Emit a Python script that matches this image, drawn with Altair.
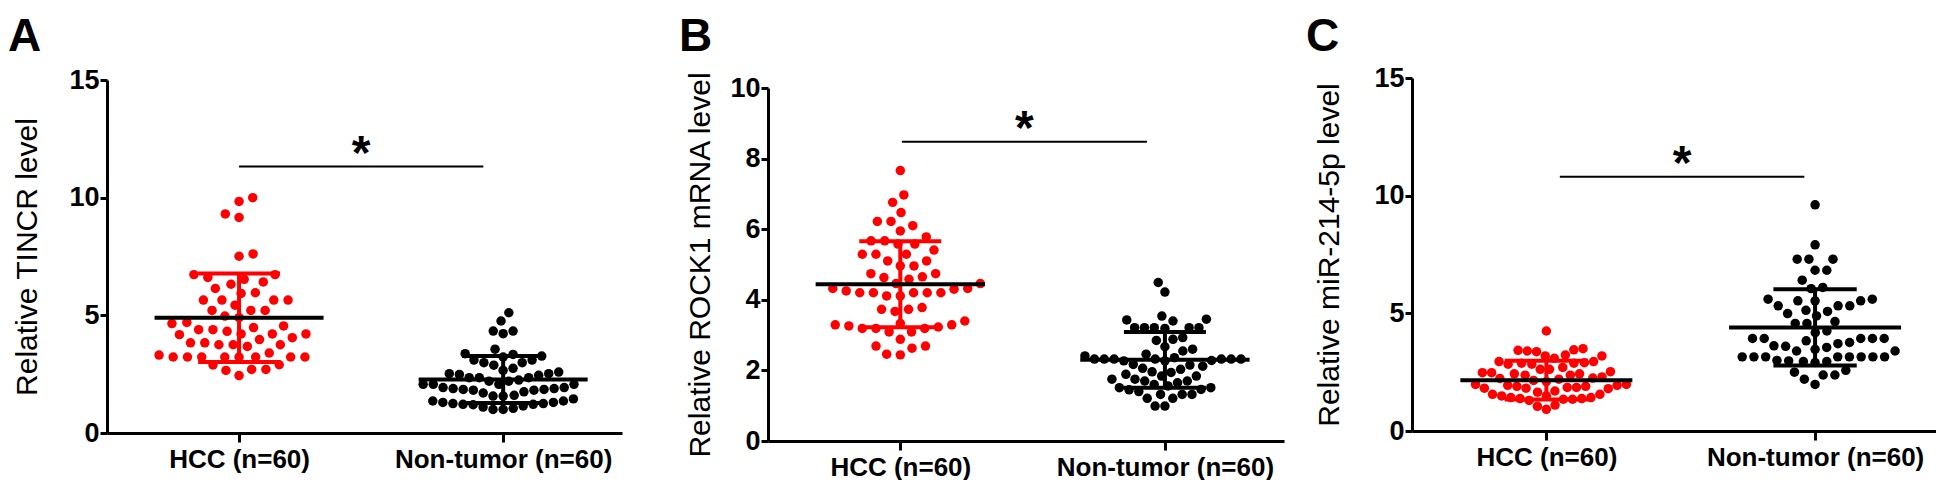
import altair as alt
import numpy as np
import pandas as pd

# ---------------- data ----------------
groups = ["HCC (n=60)", "Non-tumor (n=60)"]
panel_letters = ["A", "B", "C"]
y_titles = ["Relative TINCR level", "Relative ROCK1 mRNA level", "Relative miR-214-5p level"]
y_max = [15, 10, 15]
y_ticks = [[0, 5, 10, 15], [0, 2, 4, 6, 8, 10], [0, 5, 10, 15]]

a_hcc = [10.0, 9.84, 9.31, 9.16, 7.51, 7.61,
         6.73, 6.61, 6.42, 6.32, 6.53, 6.73,
         5.96, 5.65, 5.65, 5.43, 5.65, 5.65, 5.93, 6.14,
         5.21, 5.21, 4.90, 4.65, 4.55, 4.70, 4.97, 5.21,
         4.48, 4.39, 4.21, 4.21, 3.97, 3.83, 3.83, 4.18, 4.21, 4.32, 4.39,
         3.75, 3.75, 3.68, 3.75,
         3.40, 3.23, 3.23, 3.23, 3.23, 3.23, 3.23, 3.23, 3.23, 3.31,
         2.89, 2.70, 2.44, 2.66, 2.70, 2.90, 4.05]
a_nt = [5.11, 4.76,
        4.33, 4.22, 4.33,
        3.37, 3.23, 3.27, 3.34, 3.56,
        3.10, 2.99, 2.75, 2.59, 2.52, 2.45, 2.49, 2.52, 2.66, 2.88, 2.99, 3.10,
        2.35, 2.35, 2.07, 2.07, 1.93, 1.89, 1.85, 1.82, 1.82, 1.85, 1.89, 1.93, 2.07, 2.07, 2.20, 2.35,
        1.57, 1.36, 1.30, 1.25, 1.22, 1.20, 1.10, 1.00, 1.00, 1.05, 1.15, 1.22, 1.25, 1.30, 1.36, 1.45, 1.57,
        1.70, 1.75, 2.20, 2.25, 1.60]
b_hcc = [7.66,
         6.97, 6.76, 6.47,
         6.22, 6.10, 6.22, 5.95,
         5.67, 5.58, 5.78, 5.58, 5.67,
         5.29, 5.29, 5.29, 5.41,
         5.10, 4.96, 4.96, 5.10,
         4.74, 4.63, 4.58, 4.65, 4.74,
         4.46, 4.32, 4.30, 4.20, 4.20, 4.11, 4.11, 4.20, 4.20, 4.20, 4.32, 4.46, 4.25,
         3.78, 3.73, 3.67, 3.73,
         3.40, 3.33, 3.29, 3.23, 3.19, 3.09, 3.09, 3.19, 3.19, 3.26, 3.29,
         2.88, 2.69, 2.63, 2.69,
         2.44, 2.46]
b_nt = [4.49, 4.22,
        3.54, 3.43, 3.40, 3.45,
        3.21, 3.21, 3.19, 3.21, 3.21, 3.21,
        2.85, 2.93, 2.88, 2.67, 2.60, 2.55,
        2.32, 2.32, 2.32, 2.28, 2.17, 2.46, 2.36, 2.41, 2.27, 2.27, 2.32, 2.32, 2.32, 2.32,
        2.12, 2.03, 2.06, 2.15,
        1.94, 1.84, 1.75, 1.65, 1.70, 1.56, 1.51, 1.70, 1.75, 1.84, 1.89, 1.96,
        1.32, 1.32, 1.21, 1.21, 1.32, 1.46, 1.40, 1.51, 1.60, 1.45,
        0.99, 0.99]
c_hcc = [4.25,
         3.50, 3.45, 3.43, 3.40, 3.37,
         3.23, 3.19, 3.19,
         3.09, 2.95, 2.88, 2.84, 2.84, 2.88, 2.90, 2.95,
         2.62, 2.48, 2.43, 2.43, 2.48, 2.52, 2.62, 2.70,
         2.37, 2.23, 2.15, 2.10, 2.20, 2.25, 2.30, 2.37,
         1.98, 1.94, 1.90, 1.85, 1.82, 1.80, 1.82, 1.85, 1.90, 1.94, 1.98,
         1.56, 1.49, 1.42, 1.38, 1.35, 1.30, 1.35, 1.38, 1.42, 1.49, 1.56,
         1.10, 0.92, 1.05,
         1.70, 1.65]
c_nt = [9.61, 7.91, 7.30, 7.30, 7.30, 6.83, 6.83, 6.41,
        6.10, 6.05,
        5.60, 5.53, 5.53, 5.32, 5.13, 4.99, 5.08, 5.32, 5.32, 5.53, 5.60,
        4.89, 4.57, 4.18, 4.25, 4.57, 4.65,
        3.93, 3.93, 3.83, 3.76, 3.55, 3.47, 3.40, 3.40, 3.62, 3.71, 3.93, 3.93, 3.93,
        3.15, 3.15, 3.15, 3.15, 2.98, 2.95, 2.91, 2.95, 3.00, 3.15, 3.15, 3.15, 3.15,
        2.58, 2.38, 2.50, 2.20, 2.38,
        1.98, 3.60]

panel_values = [[a_hcc, a_nt], [b_hcc, b_nt], [c_hcc, c_nt]]
means = [[4.90, 2.27], [4.44, 2.30], [2.16, 4.40]]
sds = [[1.88, 1.00], [1.22, 0.79], [0.82, 1.62]]
sig_y = [11.32, 8.48, 10.8]
sig_x = [[0.0, 0.925], [0.006, 0.932], [0.05, 0.96]]

# ---------------- layout / style ----------------
W = [515, 516, 524]
PLOT_H = 353
TOP_SHIFT = [2, 10, 0]          # plot tops: A 2px, B 10px lower than C
XDOM = [-0.5, 1.45]
RED = "#ff0000"
FONT = "Liberation Sans"
MEAN_HALF = 0.32
CAP_HALF = 0.155
SWARM_HALF_PX = 80
title_pads = [26, 14, 29]
letter_dx = [-99, -89, -106]
LETTER_DY = -63
PAD_TOP = 6


def swarm(values, ppu_y, d=13.0):
    vals = np.asarray(values, dtype=float)
    order = np.argsort(vals, kind="stable")
    placed = []
    offs = np.zeros(len(vals))
    toggle = 1
    for i in order:
        y = vals[i] * ppu_y
        near = [(px, py) for px, py in placed if abs(py - y) < d]
        cands = [0.0]
        for px, py in near:
            dx = np.sqrt(d * d - (py - y) ** 2)
            cands += [px + dx, px - dx]
        cands.sort(key=lambda c: (round(abs(c), 4), toggle * c))
        for c in cands:
            if all((c - px) ** 2 + (y - py) ** 2 >= d * d - 1e-6 for px, py in near):
                offs[i] = c
                placed.append((c, y))
                if abs(c) > 1e-6:
                    toggle = -toggle
                break
    m = np.max(np.abs(offs))
    if m > 0:
        offs = offs * SWARM_HALF_PX / m
    return offs


def make_panel(k):
    h = PLOT_H + TOP_SHIFT[k]
    ppu_x = W[k] / (XDOM[1] - XDOM[0])
    ppu_y = PLOT_H / y_max[k]
    rows = []
    for g, vals in enumerate(panel_values[k]):
        offs = swarm(vals, ppu_y) / ppu_x
        for v, o in zip(vals, offs):
            rows.append({"x": g + o, "v": v, "grp": groups[g]})
    dots = pd.DataFrame(rows)

    stats = pd.DataFrame({
        "g": [0, 1],
        "grp": groups,
        "m": means[k],
        "lo": [means[k][i] - sds[k][i] for i in range(2)],
        "hi": [means[k][i] + sds[k][i] for i in range(2)],
    })
    stats["mx1"] = stats["g"] - MEAN_HALF
    stats["mx2"] = stats["g"] + MEAN_HALF
    stats["cx1"] = stats["g"] - CAP_HALF
    stats["cx2"] = stats["g"] + CAP_HALF

    sig = pd.DataFrame({"x1": [sig_x[k][0]], "x2": [sig_x[k][1]],
                        "xm": [(sig_x[k][0] + sig_x[k][1]) / 2], "y": [sig_y[k]], "t": ["*"]})
    letter = pd.DataFrame({"t": [panel_letters[k]]})

    label_expr = f"datum.value == 0 ? '{groups[0]}' : '{groups[1]}'"
    xscale = alt.Scale(domain=XDOM, nice=False, zero=False)
    yscale = alt.Scale(domain=[0, y_max[k]], nice=False, zero=True, range=[h, TOP_SHIFT[k]])
    xaxis = alt.Axis(values=[0, 1], labelExpr=label_expr, title=None, grid=False,
                     tickSize=9, labelPadding=4, labelFontSize=26, labelLimit=0)
    yaxis = alt.Axis(values=y_ticks[k], title=y_titles[k], grid=False, tickSize=7,
                     labelPadding=1, labelFontSize=27, titleFontSize=30,
                     titlePadding=title_pads[k])
    color = alt.Color("grp:N", scale=alt.Scale(domain=groups, range=[RED, "#000000"]), legend=None)

    def X(field):
        return alt.X(field, scale=xscale, axis=xaxis)

    def Y(field):
        return alt.Y(field, scale=yscale, axis=yaxis)

    pts = alt.Chart(dots).mark_circle(size=90, opacity=1).encode(x=X("x:Q"), y=Y("v:Q"), color=color)
    sd = alt.Chart(stats).mark_rule(strokeWidth=4).encode(x=X("g:Q"), y=Y("lo:Q"), y2="hi:Q", color=color)
    cap_hi = alt.Chart(stats).mark_rule(strokeWidth=4).encode(x=X("cx1:Q"), x2="cx2:Q", y=Y("hi:Q"), color=color)
    cap_lo = alt.Chart(stats).mark_rule(strokeWidth=4).encode(x=X("cx1:Q"), x2="cx2:Q", y=Y("lo:Q"), color=color)
    mean = alt.Chart(stats).mark_rule(strokeWidth=4, color="black").encode(x=X("mx1:Q"), x2="mx2:Q", y=Y("m:Q"))
    sline = alt.Chart(sig).mark_rule(strokeWidth=2, color="black").encode(x=X("x1:Q"), x2="x2:Q", y=Y("y:Q"))
    star = alt.Chart(sig).mark_text(fontSize=48, fontWeight="bold", font=FONT, baseline="alphabetic",
                                    dy=2, color="black").encode(x=X("xm:Q"), y=Y("y:Q"), text="t:N")
    lab = alt.Chart(letter).mark_text(fontSize=46, fontWeight="bold", font=FONT, align="left",
                                      baseline="top", color="black").encode(
        x=alt.value(letter_dx[k]), y=alt.value(LETTER_DY), text="t:N")

    return alt.layer(pts, sd, cap_hi, cap_lo, mean, sline, star, lab).properties(width=W[k], height=h)


pa, pb, pc = make_panel(0), make_panel(1), make_panel(2)
chart = alt.hconcat(alt.hconcat(pa, pb, spacing=57), pc, spacing=22).properties(
    padding={"left": 0, "top": PAD_TOP, "right": 0, "bottom": 0})
chart = chart.configure_view(stroke=None).configure_axis(
    domainColor="black", domainWidth=3, tickColor="black", tickWidth=3,
    labelColor="black", labelFont=FONT, labelFontWeight="bold",
    titleColor="black", titleFont=FONT, titleFontWeight="normal",
)

chart.save("out.html", embed_options={"renderer": "svg", "actions": False})
